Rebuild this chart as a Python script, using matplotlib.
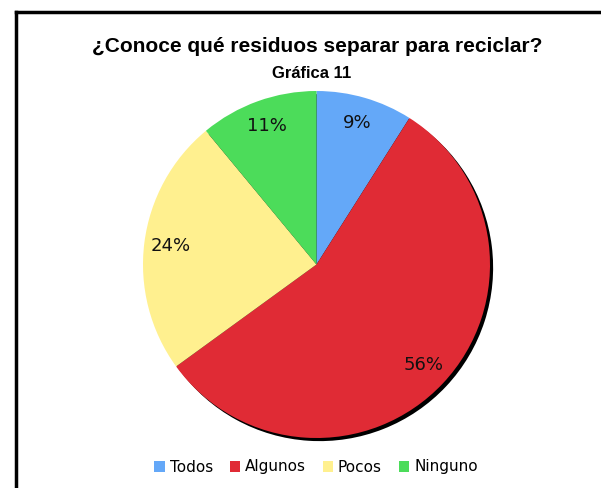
import matplotlib.pyplot as plt
from matplotlib.lines import Line2D

categories = ['Todos', 'Algunos', 'Pocos', 'Ninguno']
values = [9, 56, 24, 11]
colors = ['#64a8f8', '#e02b35', '#fff08f', '#4cdc5a']

fig = plt.figure(figsize=(6.01, 4.88), dpi=100)
fig.patch.set_facecolor('white')

# frame: only top and left edges are visible in the original crop
fig.add_artist(Line2D([0.026, 1.0], [1 - 12 / 488, 1 - 12 / 488], color='black', lw=2.5))
fig.add_artist(Line2D([0.027, 0.027], [0.0, 1 - 12 / 488], color='black', lw=2.5))

ax = fig.add_axes([143 / 601, 1 - 438 / 488, 347 / 601, 347 / 488])
ax.set_aspect('equal')

# black shadow, offset to the lower right
ax.pie(values, colors=['black'] * len(values), startangle=90, counterclock=False,
       center=(0.018, -0.018), radius=1, wedgeprops={'linewidth': 0})

wedges, texts, autotexts = ax.pie(
    values, colors=colors, startangle=90, counterclock=False, radius=1,
    autopct=lambda p: '%d%%' % round(p), pctdistance=0.85,
    wedgeprops={'linewidth': 0},
    textprops={'fontsize': 13, 'color': '#111111', 'family': 'DejaVu Sans'})

ax.set_xlim(-1.0, 1.0)
ax.set_ylim(-1.0, 1.0)
ax.axis('off')

fig.text(317 / 601, 1 - 47 / 488, '¿Conoce qué residuos separar para reciclar?',
         ha='center', va='center', fontsize=15, fontweight='bold', family='Liberation Sans')
fig.text(312 / 601, 1 - 74 / 488, 'Gráfica 11', ha='center', va='center',
         fontsize=12, fontweight='bold', family='Liberation Sans')

fig.legend(wedges, categories, loc='center', bbox_to_anchor=(316 / 601, 1 - 467 / 488),
           ncol=4, frameon=False, handlelength=0.7, handleheight=0.7,
           handletextpad=0.3, columnspacing=1.1,
           prop={'family': 'DejaVu Sans', 'size': 11})

fig.savefig('out.png', dpi=100, facecolor='white')
